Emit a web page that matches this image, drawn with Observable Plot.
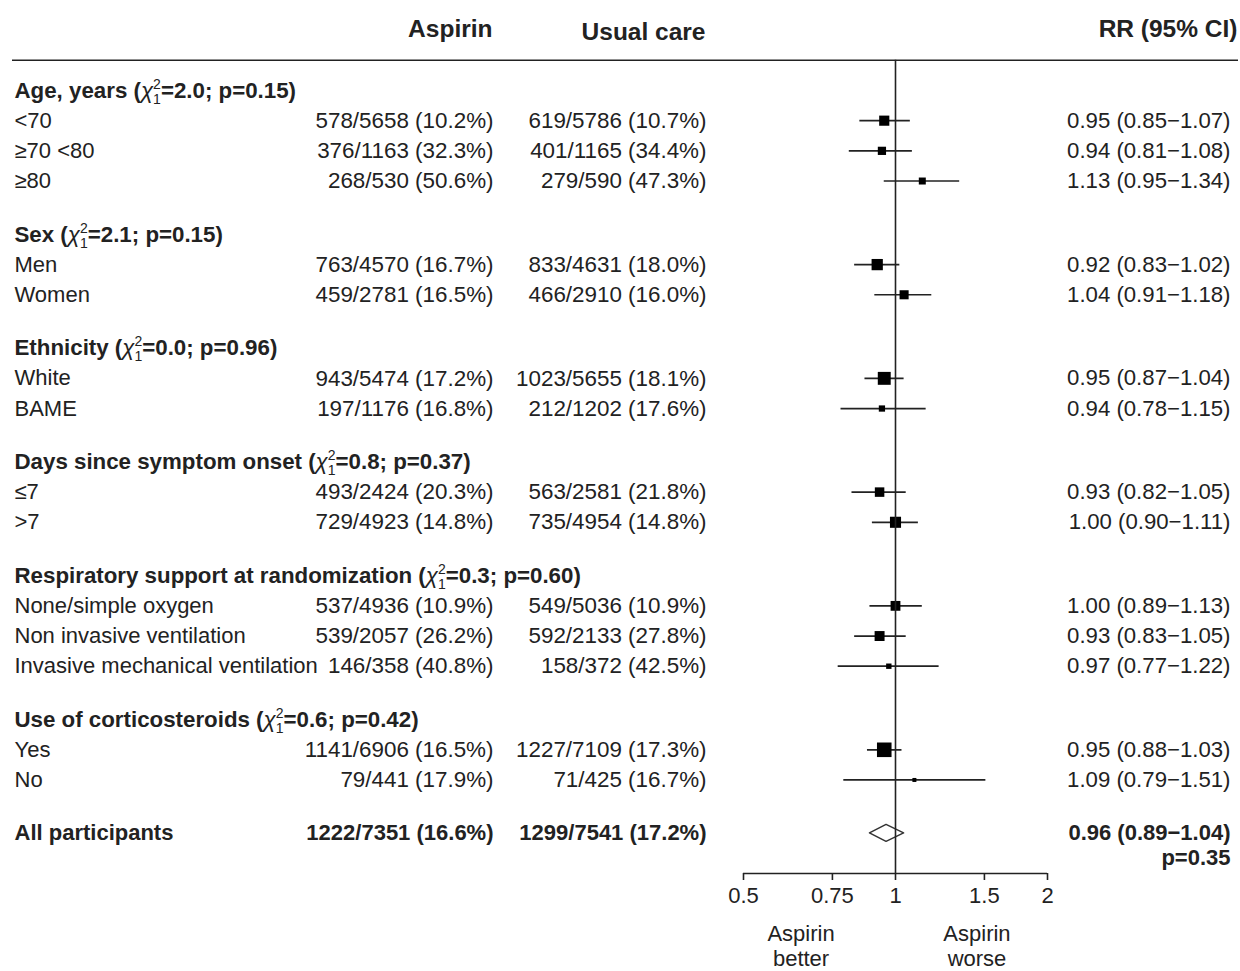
<!DOCTYPE html>
<html>
<head>
<meta charset="utf-8">
<script src="https://cdn.jsdelivr.net/npm/d3@7"></script>
<script src="https://cdn.jsdelivr.net/npm/@observablehq/plot@0.6"></script>
<style>
  body { margin: 0; background: #fff; }
  #chart svg { display: block; }
</style>
</head>
<body>
<div id="chart"></div>
<script>
// ---------------- data ----------------
const columnHeaders = ["Aspirin", "Usual care", "RR (95% CI)"];

const groupNames = ["Age, years", "Sex", "Ethnicity", "Days since symptom onset",
  "Respiratory support at randomization", "Use of corticosteroids"];
const groupChi = [2.0, 2.1, 0.0, 0.8, 0.3, 0.6];
const groupP = [0.15, 0.15, 0.96, 0.37, 0.60, 0.42];

const subLabels = ["<70", "≥70 <80", "≥80", "Men", "Women", "White", "BAME", "≤7", ">7",
  "None/simple oxygen", "Non invasive ventilation", "Invasive mechanical ventilation", "Yes", "No"];
const subGroup = [0, 0, 0, 1, 1, 2, 2, 3, 3, 4, 4, 4, 5, 5];
const aspEvents = [578, 376, 268, 763, 459, 943, 197, 493, 729, 537, 539, 146, 1141, 79];
const aspTotal = [5658, 1163, 530, 4570, 2781, 5474, 1176, 2424, 4923, 4936, 2057, 358, 6906, 441];
const aspPct = [10.2, 32.3, 50.6, 16.7, 16.5, 17.2, 16.8, 20.3, 14.8, 10.9, 26.2, 40.8, 16.5, 17.9];
const ucEvents = [619, 401, 279, 833, 466, 1023, 212, 563, 735, 549, 592, 158, 1227, 71];
const ucTotal = [5786, 1165, 590, 4631, 2910, 5655, 1202, 2581, 4954, 5036, 2133, 372, 7109, 425];
const ucPct = [10.7, 34.4, 47.3, 18.0, 16.0, 18.1, 17.6, 21.8, 14.8, 10.9, 27.8, 42.5, 17.3, 16.7];
const rrEst = [0.95, 0.94, 1.13, 0.92, 1.04, 0.95, 0.94, 0.93, 1.00, 1.00, 0.93, 0.97, 0.95, 1.09];
const rrLo = [0.85, 0.81, 0.95, 0.83, 0.91, 0.87, 0.78, 0.82, 0.90, 0.89, 0.83, 0.77, 0.88, 0.79];
const rrHi = [1.07, 1.08, 1.34, 1.02, 1.18, 1.04, 1.15, 1.05, 1.11, 1.13, 1.05, 1.22, 1.03, 1.51];

const overallLabel = "All participants";
const overallAsp = [1222, 7351, 16.6];
const overallUc = [1299, 7541, 17.2];
const overallRR = [0.96, 0.89, 1.04];
const overallP = 0.35;

const axisTicks = [0.5, 0.75, 1, 1.5, 2];
const directionLabels = ["Aspirin\nbetter", "Aspirin\nworse"];
const directionAt = [0.65, 1.45];

// ---------------- layout ----------------
const FONT = "'Liberation Sans', Arial, Helvetica, sans-serif";
const INK = "#222";
const GAP = 0.77;           // extra row units between groups
const fmtRR = (e, l, h) => `${e.toFixed(2)} (${l.toFixed(2)}\u2212${h.toFixed(2)})`;
const fmtN = (e, n, p) => `${e}/${n} (${p.toFixed(1)}%)`;

const headerRows = [], itemRows = [];
let pos = 0;
groupNames.forEach((g, gi) => {
  headerRows.push({pos, label: `${g} (χ²₁=${groupChi[gi].toFixed(1)}; p=${groupP[gi].toFixed(2)})`});
  pos += 1;
  subGroup.forEach((sg, i) => {
    if (sg !== gi) return;
    const w = Math.log(rrHi[i] / rrLo[i]);
    itemRows.push({
      pos, label: subLabels[i],
      asp: fmtN(aspEvents[i], aspTotal[i], aspPct[i]),
      uc: fmtN(ucEvents[i], ucTotal[i], ucPct[i]),
      rrText: fmtRR(rrEst[i], rrLo[i], rrHi[i]),
      rr: rrEst[i], lo: rrLo[i], hi: rrHi[i],
      side: 2.2 / w + 0.6
    });
    pos += 1;
  });
  pos += GAP;
});
const allPos = pos;
const overallRow = {
  pos: allPos, label: overallLabel,
  asp: fmtN(...overallAsp), uc: fmtN(...overallUc),
  rrText: fmtRR(...overallRR)
};
const pRow = {pos: allPos + 0.8, text: `p=${overallP.toFixed(2)}`};
const axisPos = allPos + 1.33;
const headPos = -2;
const dh = 0.28;
const diamond = [
  {y: allPos - dh, x1: overallRR[0], x2: overallRR[0]},
  {y: allPos, x1: overallRR[1], x2: overallRR[2]},
  {y: allPos + dh, x1: overallRR[0], x2: overallRR[0]}
];
const dirRows = directionLabels.map((t, i) => ({t, x: directionAt[i], pos: axisPos + 2.4}));

const txt = {fontSize: 22, fill: INK, lineAnchor: "middle"};
const hdr = {fontSize: 24.5, fill: INK, lineAnchor: "middle", fontWeight: "bold"};

const chart = Plot.plot({
  width: 1240, height: 971,
  marginLeft: 12, marginRight: 2, marginTop: 60, marginBottom: 98,
  style: {fontFamily: FONT, fontSize: "22px", color: INK, background: "#fff"},
  x: {type: "log", domain: [0.5, 2], range: [743, 1047], axis: null},
  y: {domain: [0, axisPos], range: [90, 873], axis: null},
  r: {type: "linear", domain: [0, 20], range: [0, 20]},
  marks: [
    Plot.ruleY([headPos + 1], {stroke: INK, strokeWidth: 1.5}),
    // column headers
    Plot.text([{t: columnHeaders[0], pos: headPos}], {...hdr, text: "t", y: "pos", frameAnchor: "left", dx: 480, dy: -1, textAnchor: "end"}),
    Plot.text([{t: columnHeaders[1], pos: headPos}], {...hdr, text: "t", y: "pos", frameAnchor: "left", dx: 693, dy: 2, textAnchor: "end"}),
    Plot.text([{t: columnHeaders[2], pos: headPos}], {...hdr, text: "t", y: "pos", frameAnchor: "right", dx: -1, dy: -1, textAnchor: "end"}),
    // group headers
    Plot.text(headerRows, {...txt, fontSize: 22.3, text: "label", y: "pos", frameAnchor: "left", dx: 2, textAnchor: "start", fontWeight: "bold"}),
    // subgroup rows
    Plot.text(itemRows, {...txt, text: "label", y: "pos", frameAnchor: "left", dx: 2, textAnchor: "start"}),
    Plot.text(itemRows, {...txt, fontSize: 22.4, text: "asp", y: "pos", frameAnchor: "left", dx: 481, textAnchor: "end"}),
    Plot.text(itemRows, {...txt, fontSize: 22.4, text: "uc", y: "pos", frameAnchor: "left", dx: 694, textAnchor: "end"}),
    Plot.text(itemRows, {...txt, fontSize: 22.2, text: "rrText", y: "pos", frameAnchor: "right", dx: -8, textAnchor: "end"}),
    // overall row
    Plot.text([overallRow], {...txt, text: "label", y: "pos", frameAnchor: "left", dx: 2, textAnchor: "start", fontWeight: "bold"}),
    Plot.text([overallRow], {...txt, text: "asp", y: "pos", frameAnchor: "left", dx: 481, textAnchor: "end", fontWeight: "bold"}),
    Plot.text([overallRow], {...txt, text: "uc", y: "pos", frameAnchor: "left", dx: 694, textAnchor: "end", fontWeight: "bold"}),
    Plot.text([overallRow], {...txt, text: "rrText", y: "pos", frameAnchor: "right", dx: -8, textAnchor: "end", fontWeight: "bold"}),
    Plot.text([pRow], {...txt, text: "text", y: "pos", frameAnchor: "right", dx: -8, textAnchor: "end", fontWeight: "bold"}),
    // forest
    Plot.ruleY(itemRows, {y: "pos", x1: "lo", x2: "hi", stroke: INK, strokeWidth: 1.7}),
    Plot.dot(itemRows, {x: "rr", y: "pos", r: d => d.side / Math.sqrt(Math.PI), symbol: "square", fill: "#000"}),
    Plot.areaX(diamond, {y: "y", x1: "x1", x2: "x2", fill: "#fff", stroke: "#333", strokeWidth: 1.5}),
    Plot.ruleX([1], {y1: headPos + 1, y2: axisPos, stroke: INK, strokeWidth: 1.6}),
    // axis
    Plot.ruleY([axisPos], {x1: axisTicks[0], x2: axisTicks[axisTicks.length - 1], stroke: INK, strokeWidth: 1.6}),
    Plot.axisX({ticks: axisTicks, tickFormat: d => String(d), tickSize: 7, tickPadding: 7, fontSize: 22, color: INK, strokeWidth: 1.6}),
    Plot.text(dirRows, {...txt, text: "t", x: "x", y: "pos", textAnchor: "middle", lineHeight: 1.14})
  ]
});

// stacked chi-square notation (χ with superscript 2 over subscript 1)
const NS = "http://www.w3.org/2000/svg";
chart.querySelectorAll("text").forEach(t => {
  const s = t.textContent;
  const i = s.indexOf("χ²₁");
  if (i < 0 || t.querySelector("tspan")) return;
  const before = s.slice(0, i), after = s.slice(i + 3);
  t.textContent = "";
  const add = (str, attrs) => {
    const ts = document.createElementNS(NS, "tspan");
    ts.textContent = str;
    for (const k in attrs) ts.setAttribute(k, attrs[k]);
    t.appendChild(ts);
  };
  add(before, {});
  add("χ", {"font-weight": "normal", "font-style": "italic"});
  add("2", {"font-size": "14", "dy": "-9", "font-weight": "normal"});
  add("1", {"font-size": "14", "dx": "-7.8", "dy": "15", "font-weight": "normal"});
  add(after, {"dy": "-6"});
});

document.getElementById("chart").appendChild(chart);
</script>
</body>
</html>
